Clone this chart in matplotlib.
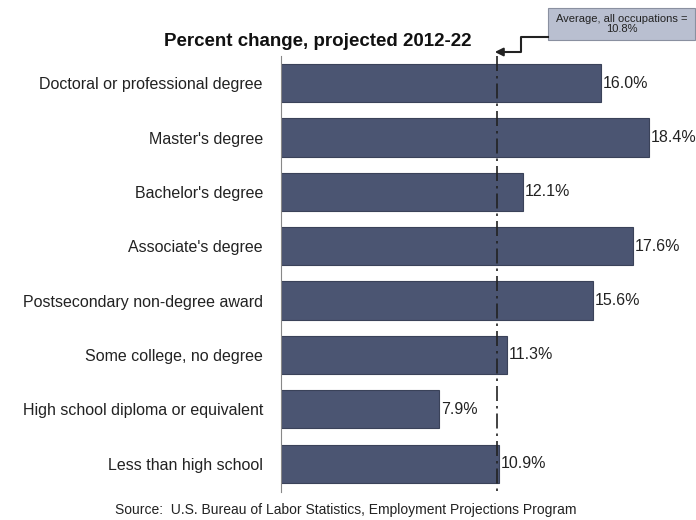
import matplotlib
matplotlib.use('Agg')
import matplotlib.pyplot as plt
from matplotlib.patches import FancyBboxPatch

plt.rcParams['font.family'] = ['Liberation Sans', 'DejaVu Sans']

categories = ["Doctoral or professional degree", "Master's degree", "Bachelor's degree",
              "Associate's degree", "Postsecondary non-degree award", "Some college, no degree",
              "High school diploma or equivalent", "Less than high school"]
values = [16.0, 18.4, 12.1, 17.6, 15.6, 11.3, 7.9, 10.9]
average = 10.8

fig = plt.figure(figsize=(6.96, 5.2), dpi=100)
ax = fig.add_axes([281/696, 1-492/520, 1-281/696, (492-56)/520])

bar_color = '#4b5572'
ypos = list(range(len(categories)))
ax.barh(ypos, values, height=0.7, color=bar_color, edgecolor='#3a4259', lw=0.8, zorder=2)
for y, v in zip(ypos, values):
    ax.text(v + 0.1, y, f"{v:.1f}%", va='center', ha='left', fontsize=11.5, color='#222222')

ax.set_xlim(0, 20.75)
ax.set_ylim(7.524, -0.5)
ax.set_yticks(ypos)
ax.set_yticklabels(categories, fontsize=11.5, color='#222222')
ax.tick_params(axis='y', length=0, pad=13)
ax.set_xticks([])
for s in ['top', 'right', 'bottom']:
    ax.spines[s].set_visible(False)
ax.spines['left'].set_color('#888888')
ax.spines['left'].set_linewidth(0.8)

# average line
ax.plot([average, average], [-0.5, 7.524], color='#222222', lw=1.2,
        dashes=(9, 3, 1.5, 3), zorder=3)

fig.text(318/696, 1-42/520, "Percent change, projected 2012-22", ha='center', va='center',
         fontsize=13.5, fontweight='bold', color='#111111')

# annotation box
box = FancyBboxPatch((548/696, 1-40/520), 147/696, 32/520, boxstyle='square,pad=0',
                     transform=fig.transFigure, facecolor='#b9bfd0', edgecolor='#8a90a0', lw=0.8)
fig.patches.append(box)
fig.text(622/696, 1-24/520, "Average, all occupations =\n10.8%", ha='center', va='center',
         fontsize=8, color='#222222', linespacing=0.9)
fig.lines.append(plt.Line2D([548/696, 521/696, 521/696, 502/696],
                            [1-37/520, 1-37/520, 1-52/520, 1-52/520],
                            transform=fig.transFigure, color='#222222', lw=1.5))
ax.annotate("", xy=(492/696, 1-52/520), xytext=(505/696, 1-52/520),
            xycoords='figure fraction', textcoords='figure fraction',
            arrowprops=dict(arrowstyle='-|>', color='#222222', lw=1.5, mutation_scale=12))

fig.text(346/696, 1-510/520, "Source:  U.S. Bureau of Labor Statistics, Employment Projections Program",
         ha='center', va='center', fontsize=10, color='#222222')

fig.savefig('out.png', dpi=100, facecolor='white')
